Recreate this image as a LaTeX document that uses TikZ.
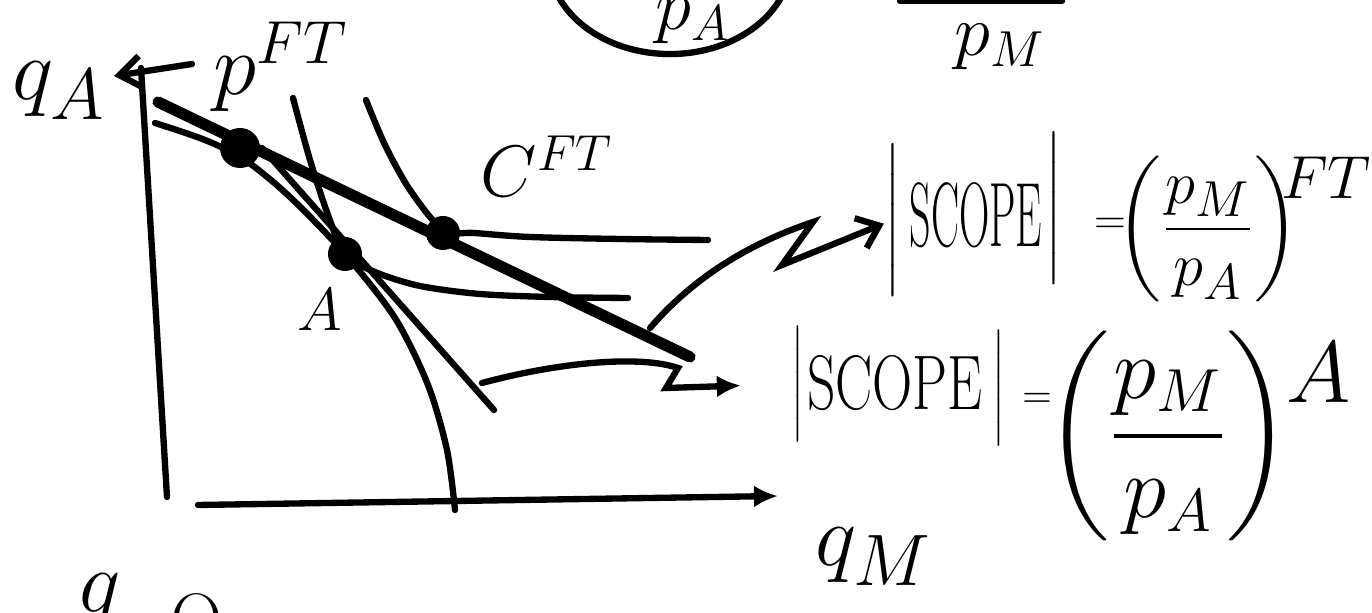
\documentclass[tikz,border=0pt]{standalone}
\usepackage{amsmath}
\usepackage{graphicx}
\usetikzlibrary{arrows.meta,positioning}

\newcommand{\fs}[1]{\fontsize{#1}{#1}\selectfont}

\begin{document}
\begin{tikzpicture}[x=0.01cm,y=-0.01cm,
        every node/.style={inner sep=0pt},
        axis/.style={line width=1.8pt,line cap=round},
        curve/.style={line width=1.8pt,line cap=round},
        tradeline/.style={line width=3.2pt,line cap=round},
        dot/.style={circle,fill,minimum size=0.34cm}]
    \useasboundingbox (0,0) rectangle (1372,613);
    \clip (0,0) rectangle (1372,613);
    % cut-off bits at the top
    \node [font=\fs{22},anchor=base] (pAtop) at (693,30) {$p_A$};
    \draw [curve] (670,-40) ellipse [x radius=1.21cm, y radius=0.94cm];
    \draw [axis] (900,1) -- (1062,1);
    \node [font=\fs{22},anchor=base] (pMtop) at (1000,56) {$p_M$};
    % axes
    \node [font=\fs{30},anchor=base west] (qA) at (12,100) {$q_A$};
    \node [font=\fs{24},anchor=base west] (pFT) at (213,95) {$p^{FT}$};
    \coordinate (tipL) at (114,76);
    \draw [axis,-{Straight Barb[length=0.22cm,width=0.32cm]}] (192,64) -- (tipL);
    \draw [axis] (141,68) -- (167,497);
    \draw [axis,-{Latex[length=0.24cm,width=0.22cm]}] (198,505) -- (778,496);
    \node [font=\fs{30},anchor=base west] (qM) at (815,566) {$q_M$};
    % frontier, price lines and indifference curves
    \draw [curve] plot [smooth] coordinates {(155,123) (205,140) (245,160) (290,197) (345,254) (395,318) (428,385) (447,450) (455,510)}; % ppf
    \draw [tradeline] (158,102) -- (690,357); % free trade price
    \draw [curve] (262,148) -- (494,410); % autarky price
    \draw [curve] plot [smooth] coordinates {(293,98) (310,160) (328,215) (345,254) (375,272) (420,286) (480,294) (550,297) (628,298)};
    \draw [curve] plot [smooth] coordinates {(366,100) (385,145) (410,190) (443,230) (475,233) (530,237) (620,239) (708,240)};
    \node [dot,minimum size=0.4cm] (ptFT) at (240,148) {};
    \node [dot] (ptA) at (345,254) {};
    \node [dot] (ptC) at (443,233) {};
    \node [font=\fs{17}] (labA) at (320,310) {$A$};
    \node [font=\fs{22},anchor=base west] (labC) at (480,197) {$C^{FT}$};
    % |scope| under free trade
    \node [font=\fs{14}] (sFTl) at (893,220) {$\Bigg|$};
    \node [font=\fs{26}] (sFT) at (976,215) {\scalebox{.46}[1]{SCOPE}};
    \node [font=\fs{14}] (sFTr) at (1054,208) {$\Bigg|$};
    \node [font=\fs{13}] (eqFT) at (1110,226) {$=$};
    \node [font=\fs{19}] (frFT) at (1208,229) {$\left(\dfrac{p_M}{p_A}\right)$};
    \node [font=\fs{18}] (supFT) at (1326,178) {$FT$};
    % |scope| in autarky
    \node [font=\fs{11}] (sAl) at (798,384) {$\Bigg|$};
    \node [font=\fs{22}] (sA) at (895,383) {\scalebox{.72}[1]{SCOPE}};
    \node [font=\fs{11}] (sAr) at (999,388) {$\Bigg|$};
    \node [font=\fs{11}] (eqA) at (1037,400) {$=$};
    \node [font=\fs{26}] (frA) at (1168,436) {$\left(\dfrac{p_M}{p_A}\right)$};
    \node [font=\fs{24}] (supA) at (1319,373) {$A$};
    % arrows from the graph to the formulas
    \coordinate (upStart) at (650,328);
    \coordinate (loStart) at (482,383);
    \draw [curve,-{Straight Barb[length=0.2cm,width=0.32cm]}] (upStart) .. controls (700,270) and (760,240) .. (813,222) -- (782,265) -- (sFTl);
    \draw [curve,-{Latex[length=0.24cm,width=0.22cm]},shorten >=0.5cm] (loStart) .. controls (560,362) and (640,355) .. (678,368) -- (666,388) -- (sAl.west);
    % next sketch, cut off at the bottom
    \node [font=\fs{30},anchor=north] (qNext) at (100,573) {$q$};
    \node [font=\fs{22},anchor=north] (thNext) at (197,594) {$\Theta$};
\end{tikzpicture}
\end{document}
